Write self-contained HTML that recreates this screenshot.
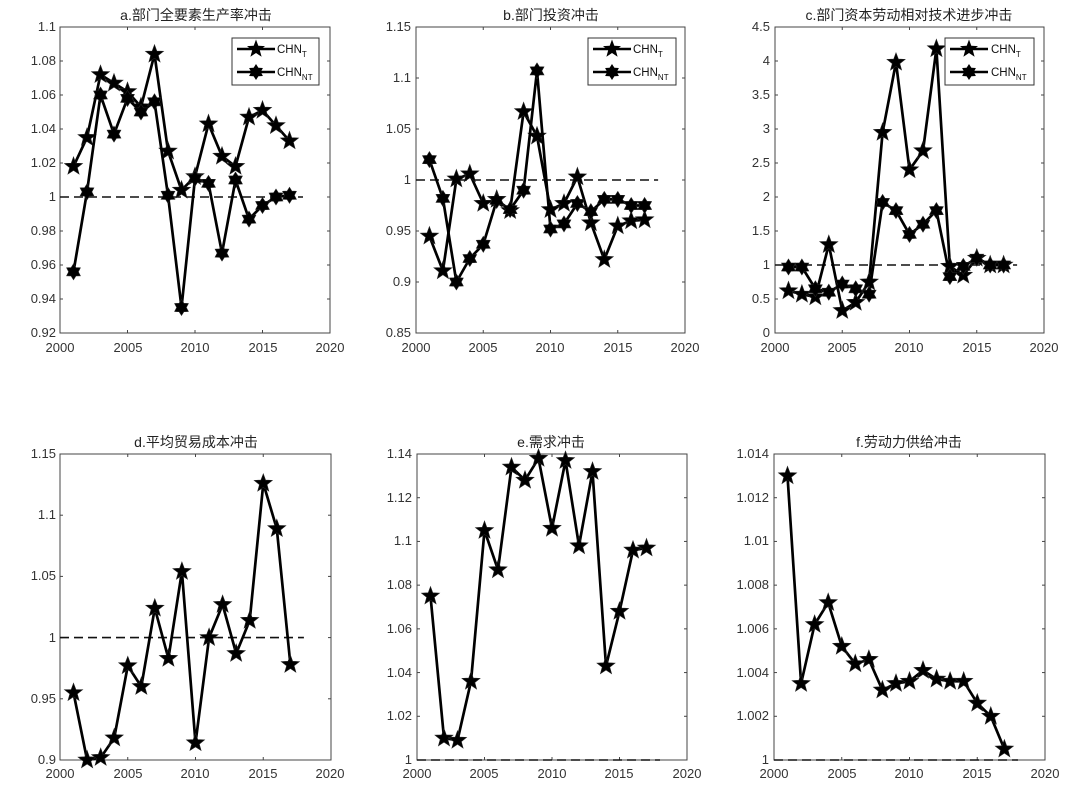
<!DOCTYPE html>
<html><head><meta charset="utf-8">
<style>
body{margin:0;background:#fff;}
svg{display:block;}
text{font-family:"Liberation Sans","Noto Sans CJK SC",sans-serif;fill:#333;}
.y{font-size:13px;text-anchor:end;}
.x{font-size:13px;text-anchor:middle;}
.ti{font-size:14px;text-anchor:middle;fill:#222;}
.lg{font-size:11.5px;fill:#111;}
</style></head><body>
<svg id="s" width="1080" height="794" viewBox="0 0 1080 794" xmlns="http://www.w3.org/2000/svg">
<g id="plots"></g>
<text class="ti" x="196" y="20">a.部门全要素生产率冲击</text>
<text class="ti" x="551" y="20">b.部门投资冲击</text>
<text class="ti" x="909" y="20">c.部门资本劳动相对技术进步冲击</text>
<text class="ti" x="196" y="447">d.平均贸易成本冲击</text>
<text class="ti" x="551" y="447">e.需求冲击</text>
<text class="ti" x="909" y="447">f.劳动力供给冲击</text>
<g class="y">
<text x="56" y="337">0.92</text><text x="56" y="303">0.94</text><text x="56" y="269">0.96</text><text x="56" y="235">0.98</text><text x="56" y="201">1</text><text x="56" y="167">1.02</text><text x="56" y="133">1.04</text><text x="56" y="99">1.06</text><text x="56" y="65">1.08</text><text x="56" y="31">1.1</text>
<text x="411" y="337">0.85</text><text x="411" y="286">0.9</text><text x="411" y="235">0.95</text><text x="411" y="184">1</text><text x="411" y="133">1.05</text><text x="411" y="82">1.1</text><text x="411" y="31">1.15</text>
<text x="770" y="337">0</text><text x="770" y="303">0.5</text><text x="770" y="269">1</text><text x="770" y="235">1.5</text><text x="770" y="201">2</text><text x="770" y="167">2.5</text><text x="770" y="133">3</text><text x="770" y="99">3.5</text><text x="770" y="65">4</text><text x="770" y="31">4.5</text>
<text x="56" y="764">0.9</text><text x="56" y="703">0.95</text><text x="56" y="642">1</text><text x="56" y="580">1.05</text><text x="56" y="519">1.1</text><text x="56" y="458">1.15</text>
<text x="412" y="764">1</text><text x="412" y="720">1.02</text><text x="412" y="677">1.04</text><text x="412" y="633">1.06</text><text x="412" y="589">1.08</text><text x="412" y="545">1.1</text><text x="412" y="502">1.12</text><text x="412" y="458">1.14</text>
<text x="769" y="764">1</text><text x="769" y="720">1.002</text><text x="769" y="677">1.004</text><text x="769" y="633">1.006</text><text x="769" y="589">1.008</text><text x="769" y="545">1.01</text><text x="769" y="502">1.012</text><text x="769" y="458">1.014</text>
</g>
<g class="x">
<text x="60" y="352">2000</text><text x="128" y="352">2005</text><text x="195" y="352">2010</text><text x="263" y="352">2015</text><text x="330" y="352">2020</text>
<text x="416" y="352">2000</text><text x="483" y="352">2005</text><text x="550" y="352">2010</text><text x="618" y="352">2015</text><text x="685" y="352">2020</text>
<text x="775" y="352">2000</text><text x="842" y="352">2005</text><text x="909" y="352">2010</text><text x="977" y="352">2015</text><text x="1044" y="352">2020</text>
<text x="60" y="778">2000</text><text x="128" y="778">2005</text><text x="195" y="778">2010</text><text x="263" y="778">2015</text><text x="330" y="778">2020</text>
<text x="417" y="778">2000</text><text x="484" y="778">2005</text><text x="552" y="778">2010</text><text x="619" y="778">2015</text><text x="687" y="778">2020</text>
<text x="774" y="778">2000</text><text x="842" y="778">2005</text><text x="909" y="778">2010</text><text x="977" y="778">2015</text><text x="1045" y="778">2020</text>
</g>
<g id="leg"></g>
<text class="lg" x="277" y="53">CHN<tspan font-size="8" dy="4">T</tspan></text>
<text class="lg" x="277" y="76">CHN<tspan font-size="8" dy="4">NT</tspan></text>
<text class="lg" x="633" y="53">CHN<tspan font-size="8" dy="4">T</tspan></text>
<text class="lg" x="633" y="76">CHN<tspan font-size="8" dy="4">NT</tspan></text>
<text class="lg" x="991" y="53">CHN<tspan font-size="8" dy="4">T</tspan></text>
<text class="lg" x="991" y="76">CHN<tspan font-size="8" dy="4">NT</tspan></text>
</svg>
<script>
var NS="http://www.w3.org/2000/svg",G=document.getElementById("plots");
function el(n,a,p){var e=document.createElementNS(NS,n);for(var k in a)e.setAttribute(k,a[k]);(p||G).appendChild(e);return e;}
function star5(x,y,r){var p=[];for(var i=0;i<10;i++){var rr=i%2?r*0.42:r,a=-Math.PI/2+i*Math.PI/5;p.push((x+rr*Math.cos(a)).toFixed(1)+","+(y+rr*Math.sin(a)).toFixed(1));}return p.join(" ");}
function star6(x,y,r){var p=[];for(var i=0;i<12;i++){var rr=i%2?r*0.6:r,a=-Math.PI/2+i*Math.PI/6;p.push((x+rr*Math.cos(a)).toFixed(1)+","+(y+rr*Math.sin(a)).toFixed(1));}return p.join(" ");}
var P=[
{l:60,r:330,t:27,b:333,y0:0.92,y1:1.1,ys:0.02,s:[[1.018,1.035,1.072,1.067,1.062,1.053,1.084,1.027,1.004,1.012,1.043,1.024,1.018,1.047,1.051,1.042,1.033],[0.956,1.003,1.060,1.037,1.058,1.050,1.056,1.001,0.935,1.011,1.008,0.967,1.010,0.987,0.995,1.000,1.001]]},
{l:416,r:685,t:27,b:333,y0:0.85,y1:1.15,ys:0.05,s:[[0.945,0.911,1.001,1.006,0.977,0.981,0.970,1.067,1.043,0.971,0.977,1.003,0.958,0.922,0.955,0.960,0.961],[1.020,0.982,0.900,0.923,0.937,0.980,0.971,0.990,1.107,0.952,0.957,0.977,0.969,0.981,0.981,0.975,0.975]]},
{l:775,r:1044,t:27,b:333,y0:0,y1:4.5,ys:0.5,s:[[0.62,0.57,0.53,1.30,0.33,0.45,0.75,2.95,3.98,2.40,2.68,4.18,0.98,0.85,1.10,1.00,1.00],[0.97,0.97,0.65,0.60,0.72,0.65,0.57,1.92,1.80,1.45,1.60,1.80,0.83,0.98,1.10,1.00,1.00]]},
{l:60,r:331,t:454,b:760,y0:0.9,y1:1.15,ys:0.05,s:[[0.955,0.900,0.902,0.918,0.977,0.960,1.024,0.983,1.054,0.914,1.000,1.027,0.987,1.014,1.126,1.089,0.978]]},
{l:417,r:687,t:454,b:760,y0:1,y1:1.14,ys:0.02,s:[[1.075,1.010,1.009,1.036,1.105,1.087,1.134,1.128,1.138,1.106,1.137,1.098,1.132,1.043,1.068,1.096,1.097]]},
{l:774,r:1045,t:454,b:760,y0:1,y1:1.014,ys:0.002,s:[[1.0130,1.0035,1.0062,1.0072,1.0052,1.0044,1.0046,1.0032,1.0035,1.0036,1.0041,1.0037,1.0036,1.0036,1.0026,1.0020,1.0005]]}
];
P.forEach(function(p){
 function X(yr){return p.l+(yr-2000)/20*(p.r-p.l);}
 function Y(v){return p.b-(v-p.y0)/(p.y1-p.y0)*(p.b-p.t);}
 el("rect",{x:p.l,y:p.t,width:p.r-p.l,height:p.b-p.t,fill:"#fff",stroke:"#444","stroke-width":1});
 var n=Math.round((p.y1-p.y0)/p.ys);
 for(var i=1;i<n;i++){var yy=Y(p.y0+i*p.ys);el("line",{x1:p.l,x2:p.l+3,y1:yy,y2:yy,stroke:"#444"});el("line",{x1:p.r,x2:p.r-3,y1:yy,y2:yy,stroke:"#444"});}
 for(var j=1;j<4;j++){var xx=X(2000+5*j);el("line",{x1:xx,x2:xx,y1:p.b,y2:p.b-3,stroke:"#444"});el("line",{x1:xx,x2:xx,y1:p.t,y2:p.t+3,stroke:"#444"});}
 el("line",{x1:p.l,x2:X(2018),y1:Y(1),y2:Y(1),stroke:"#111","stroke-width":1.6,"stroke-dasharray":"9,5"});
 p.s.forEach(function(d,k){
  var pts=d.map(function(v,i){return X(2001+i).toFixed(1)+","+Y(v).toFixed(1);});
  el("polyline",{points:pts.join(" "),fill:"none",stroke:"#000","stroke-width":2.7,"stroke-linejoin":"round"});
  d.forEach(function(v,i){var x=X(2001+i),y=Y(v);
   el("polygon",{points:k?star6(x,y,8):star5(x,y,9.5),fill:"#000",stroke:"#222","stroke-width":0.6});});
 });
});
var L=document.getElementById("leg");
[[232,319],[588,676],[945,1034]].forEach(function(b){
 el("rect",{x:b[0],y:38,width:b[1]-b[0],height:47,fill:"#fff",stroke:"#333"},L);
 el("line",{x1:b[0]+5,x2:b[0]+43,y1:49,y2:49,stroke:"#000","stroke-width":2.6},L);
 el("polygon",{points:star5(b[0]+24,49,9.5),fill:"#000"},L);
 el("line",{x1:b[0]+5,x2:b[0]+43,y1:72,y2:72,stroke:"#000","stroke-width":2.6},L);
 el("polygon",{points:star6(b[0]+24,72,8),fill:"#000"},L);
});
</script>
</body></html>
